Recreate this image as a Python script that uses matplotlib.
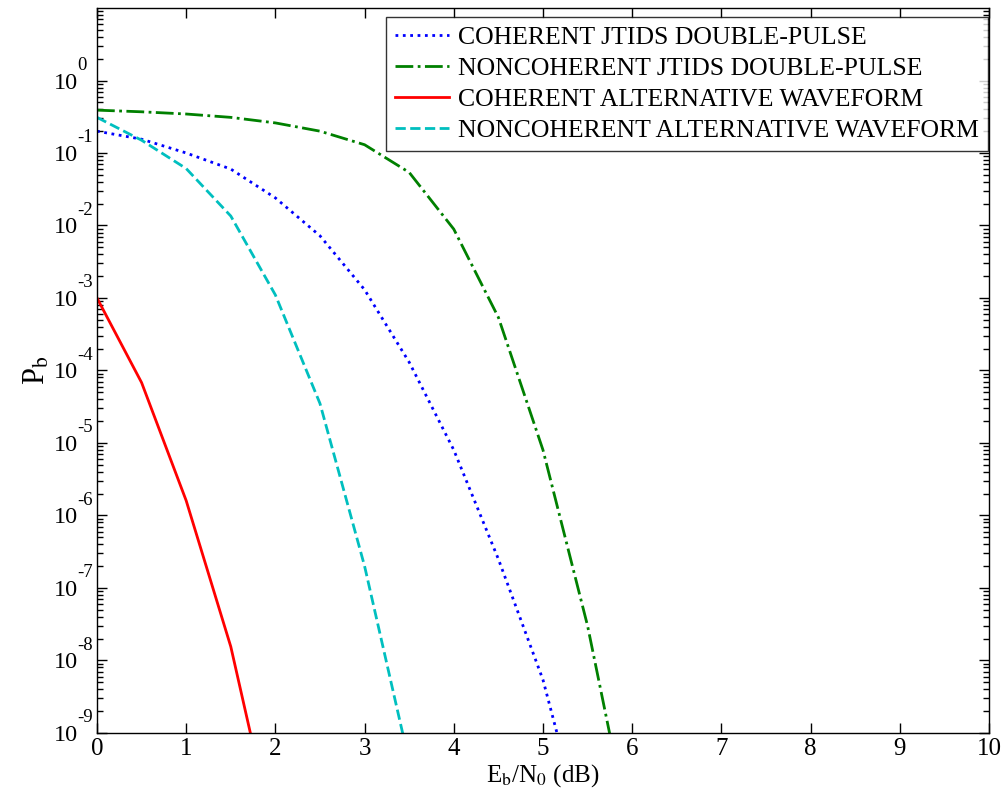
import numpy as np
import matplotlib
matplotlib.use("Agg")
import matplotlib.pyplot as plt
import matplotlib.transforms as mtrans
from matplotlib.ticker import LogLocator, NullFormatter

plt.rcParams['font.family'] = ['Liberation Serif', 'DejaVu Serif']
plt.rcParams['mathtext.fontset'] = 'stix'

# Eb/N0 in dB, Pb
ebn0 = [0, 0.5, 1.0, 1.5, 2.0, 2.5, 3.0, 3.5, 4.0, 4.5, 5.0, 5.5, 6.0]
coh_jtids = [0.2, 0.155, 0.10, 0.06, 0.024, 7.2e-3, 1.3e-3, 1.3e-4, 8e-6, 2.5e-7, 5.4e-9, 2.5e-11, 1e-13]
noncoh_jtids = [0.39, 0.37, 0.345, 0.31, 0.26, 0.20, 0.13, 0.054, 8.9e-3, 5.4e-4, 8e-6, 3e-8, 3e-11]

ebn0_alt = [0, 0.5, 1.0, 1.5, 2.0, 2.5, 3.0, 3.5, 4.0]
coh_alt = [1e-3, 6.8e-5, 1.6e-6, 1.55e-8, 3e-11, 1e-13, 1e-15, 1e-17, 1e-19]
noncoh_alt = [0.31, 0.15, 0.061, 0.0135, 1.1e-3, 3.5e-5, 2e-7, 4e-10, 1e-12]

labels = ['COHERENT JTIDS DOUBLE-PULSE', 'NONCOHERENT JTIDS DOUBLE-PULSE',
          'COHERENT ALTERNATIVE WAVEFORM', 'NONCOHERENT ALTERNATIVE WAVEFORM']
decades = list(range(-9, 1))

fig = plt.figure(figsize=(10.03, 8.01), dpi=100)
ax = fig.add_axes([0.0967, 0.085, 0.8893, 0.905])

lw = 2.0
ax.semilogy(ebn0, coh_jtids, ':', color=(0, 0, 1), linewidth=lw, label=labels[0])
ax.semilogy(ebn0, noncoh_jtids, '-.', color=(0, 0.5, 0), linewidth=lw, label=labels[1])
ax.semilogy(ebn0_alt, coh_alt, '-', color=(1, 0, 0), linewidth=lw, label=labels[2])
ax.semilogy(ebn0_alt, noncoh_alt, '--', color=(0, 0.75, 0.75), linewidth=lw, label=labels[3])

ax.set_xlim(0, 10)
ax.set_ylim(1e-9, 1e1)
ax.set_xticks(range(0, 11))
ax.set_yticks([10.0**k for k in decades])
ax.set_yticklabels(['10'] * len(decades))
ax.yaxis.set_minor_locator(LogLocator(base=10, subs=np.arange(2, 10), numticks=20))
ax.yaxis.set_minor_formatter(NullFormatter())

ax.tick_params(which='both', direction='in', top=True, right=True, width=1)
ax.tick_params(axis='x', labelsize=18)
ax.tick_params(axis='y', labelsize=17.5, pad=13.5)
ax.tick_params(which='major', length=7)
ax.tick_params(which='minor', length=4)
for s in ax.spines.values():
    s.set_linewidth(1)

# MATLAB style raised exponents next to the "10"
base = mtrans.blended_transform_factory(ax.transAxes, ax.transData)
off = mtrans.ScaledTranslation(-19.5 / 100, 15 / 100, fig.dpi_scale_trans)
for k in decades:
    ax.text(0, 10.0**k, str(k), transform=base + off, fontsize=13.5,
            ha='left', va='center', clip_on=False)

ax.set_xlabel(r'E$_\mathrm{b}$/N$_0$ (dB)', fontsize=18, labelpad=2)
ax.set_ylabel(r'P$_\mathrm{b}$', fontsize=22, labelpad=2)

leg = ax.legend(loc='upper right', bbox_to_anchor=(0.999, 0.988), fontsize=18.5,
                frameon=True, fancybox=False, edgecolor='black',
                handlelength=2.1, handletextpad=0.35, borderpad=0.35,
                labelspacing=0.32, borderaxespad=0)
leg.get_frame().set_linewidth(1)

fig.savefig('out.png', dpi=100)
